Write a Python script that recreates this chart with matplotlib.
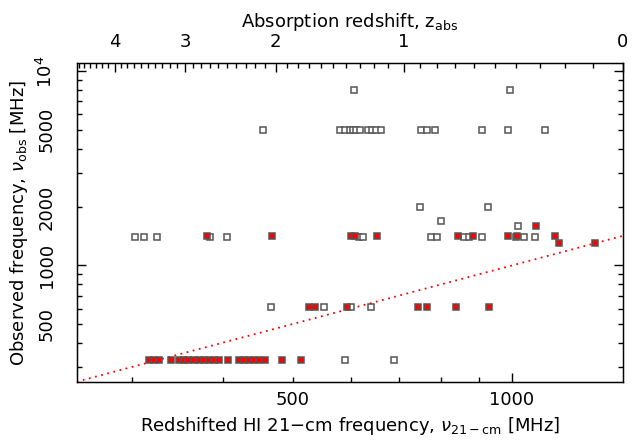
import numpy as np
import matplotlib
matplotlib.use("Agg")
import matplotlib.pyplot as plt
from matplotlib.ticker import FixedLocator, FixedFormatter, NullFormatter

NU_HI = 1420.4  # rest frequency of HI 21-cm line [MHz]

# --- searched but not detected (open squares) ---
open_nu21 = [606, 993,
             455, 581, 589, 598, 604, 610, 618, 633, 642, 651, 660, 751, 765, 785, 911, 988, 1111,
             747, 927, 798, 1018,
             303, 312, 325, 384, 405, 616, 625, 774, 789, 858, 873, 910, 1013, 1039, 1076,
             466, 551, 600, 640,
             589, 688]
open_nuobs = [8000, 8000,
              5000, 5000, 5000, 5000, 5000, 5000, 5000, 5000, 5000, 5000, 5000, 5000, 5000, 5000, 5000, 5000, 5000,
              2000, 2000, 1700, 1600,
              1410, 1410, 1410, 1410, 1410, 1410, 1410, 1410, 1410, 1410, 1410, 1410, 1410, 1410, 1410,
              610, 610, 610, 610,
              327, 327]

# --- detections (filled red squares) ---
det_nu21 = [1080,
            381, 468, 600, 608, 653, 843, 885, 988, 1016, 1146,
            1162, 1301,
            526, 536, 593, 743, 764, 838, 930,
            317, 322, 327, 340, 348, 354, 359, 365, 371, 377, 383, 389, 395, 407,
            421, 428, 435, 442, 449, 457, 483, 512]
det_nuobs = [1600,
             1420, 1420, 1420, 1420, 1420, 1420, 1420, 1420, 1420, 1420,
             1305, 1305,
             610, 610, 610, 610, 610, 610, 610,
             327, 327, 327, 327, 327, 327, 327, 327, 327, 327, 327, 327, 327, 327,
             327, 327, 327, 327, 327, 327, 327, 327]

nu_lim = [252, NU_HI]
nuobs_lim = [252, 11000]

x_minor = [300, 400, 500, 600, 700, 800, 900]
x_major = [1000]
x_labels = {500: "500", 1000: "1000"}
y_major = [1000, 10000]
y_minor = [300, 400, 500, 600, 700, 800, 900, 2000, 3000, 4000, 5000, 6000, 7000, 8000, 9000]
y_labels = {500: "500", 1000: "1000", 2000: "2000", 5000: "5000", 10000: r"$10^4$"}
z_major = [0, 1, 2, 3, 4]
z_minor = [round(0.1 * i, 1) for i in range(0, 47)]

plt.rcParams["font.family"] = ["DejaVu Sans"]
plt.rcParams["mathtext.fontset"] = "dejavusans"

fig = plt.figure(figsize=(6.32, 4.42), dpi=100)
ax = fig.add_axes([76.7 / 632, 1 - 381.7 / 442, 546 / 632, 318.4 / 442])
ax.set_xscale("log")
ax.set_yscale("log")

ax.plot(nu_lim, nu_lim, ls=(0, (1, 2.5)), color="red", lw=1.3, zorder=1)
ax.plot(open_nu21, open_nuobs, ls="none", marker="s", ms=5, mfc="white", mec="#555555", mew=1.1, zorder=2)
ax.plot(det_nu21, det_nuobs, ls="none", marker="s", ms=5, mfc="red", mec="#555555", mew=1.1, zorder=3)

ax.set_xlim(nu_lim)
ax.set_ylim(nuobs_lim)

# bottom axis: nu_21
ax.xaxis.set_major_locator(FixedLocator(x_major))
ax.xaxis.set_minor_locator(FixedLocator(x_minor))
ax.xaxis.set_major_formatter(FixedFormatter([x_labels[v] for v in x_major]))
ax.xaxis.set_minor_formatter(FixedFormatter([x_labels.get(v, "") for v in x_minor]))

# left/right axis: nu_obs
ax.yaxis.set_major_locator(FixedLocator(y_major))
ax.yaxis.set_minor_locator(FixedLocator(y_minor))
ax.yaxis.set_major_formatter(FixedFormatter([y_labels[v] for v in y_major]))
ax.yaxis.set_minor_formatter(FixedFormatter([y_labels.get(v, "") for v in y_minor]))

ax.tick_params(which="both", direction="in", top=False, right=True, labelsize=13, width=1.0)
ax.tick_params(which="major", length=6.5)
ax.tick_params(which="minor", length=3.6)
ax.tick_params(axis="x", which="both", pad=7)
ax.tick_params(axis="y", which="both", pad=15, labelrotation=90)
for lab in ax.get_yticklabels(which="both"):
    lab.set_va("center")

for sp in ax.spines.values():
    sp.set_linewidth(1.0)

ax.set_xlabel(r"Redshifted HI 21$-$cm frequency, $\nu_{\rm 21-cm}$ [MHz]", fontsize=13, labelpad=4)
ax.set_ylabel(r"Observed frequency, $\nu_{\rm obs}$ [MHz]", fontsize=13, labelpad=4)

# top axis: absorption redshift, placed at the matching nu_21
top = ax.twiny()
top.set_xscale("log")
top.set_xlim(nu_lim)
top.xaxis.set_major_locator(FixedLocator([NU_HI / (1 + z) for z in z_major]))
top.xaxis.set_minor_locator(FixedLocator([NU_HI / (1 + z) for z in z_minor]))
top.xaxis.set_major_formatter(FixedFormatter([str(z) for z in z_major]))
top.xaxis.set_minor_formatter(NullFormatter())
top.tick_params(which="both", direction="in", labelsize=13, width=1.0, pad=9)
top.tick_params(which="major", length=6.5)
top.tick_params(which="minor", length=3.6)
top.set_xlabel(r"Absorption redshift, z$_{\rm abs}$", fontsize=13, labelpad=4)

fig.savefig("out.png", dpi=100)
